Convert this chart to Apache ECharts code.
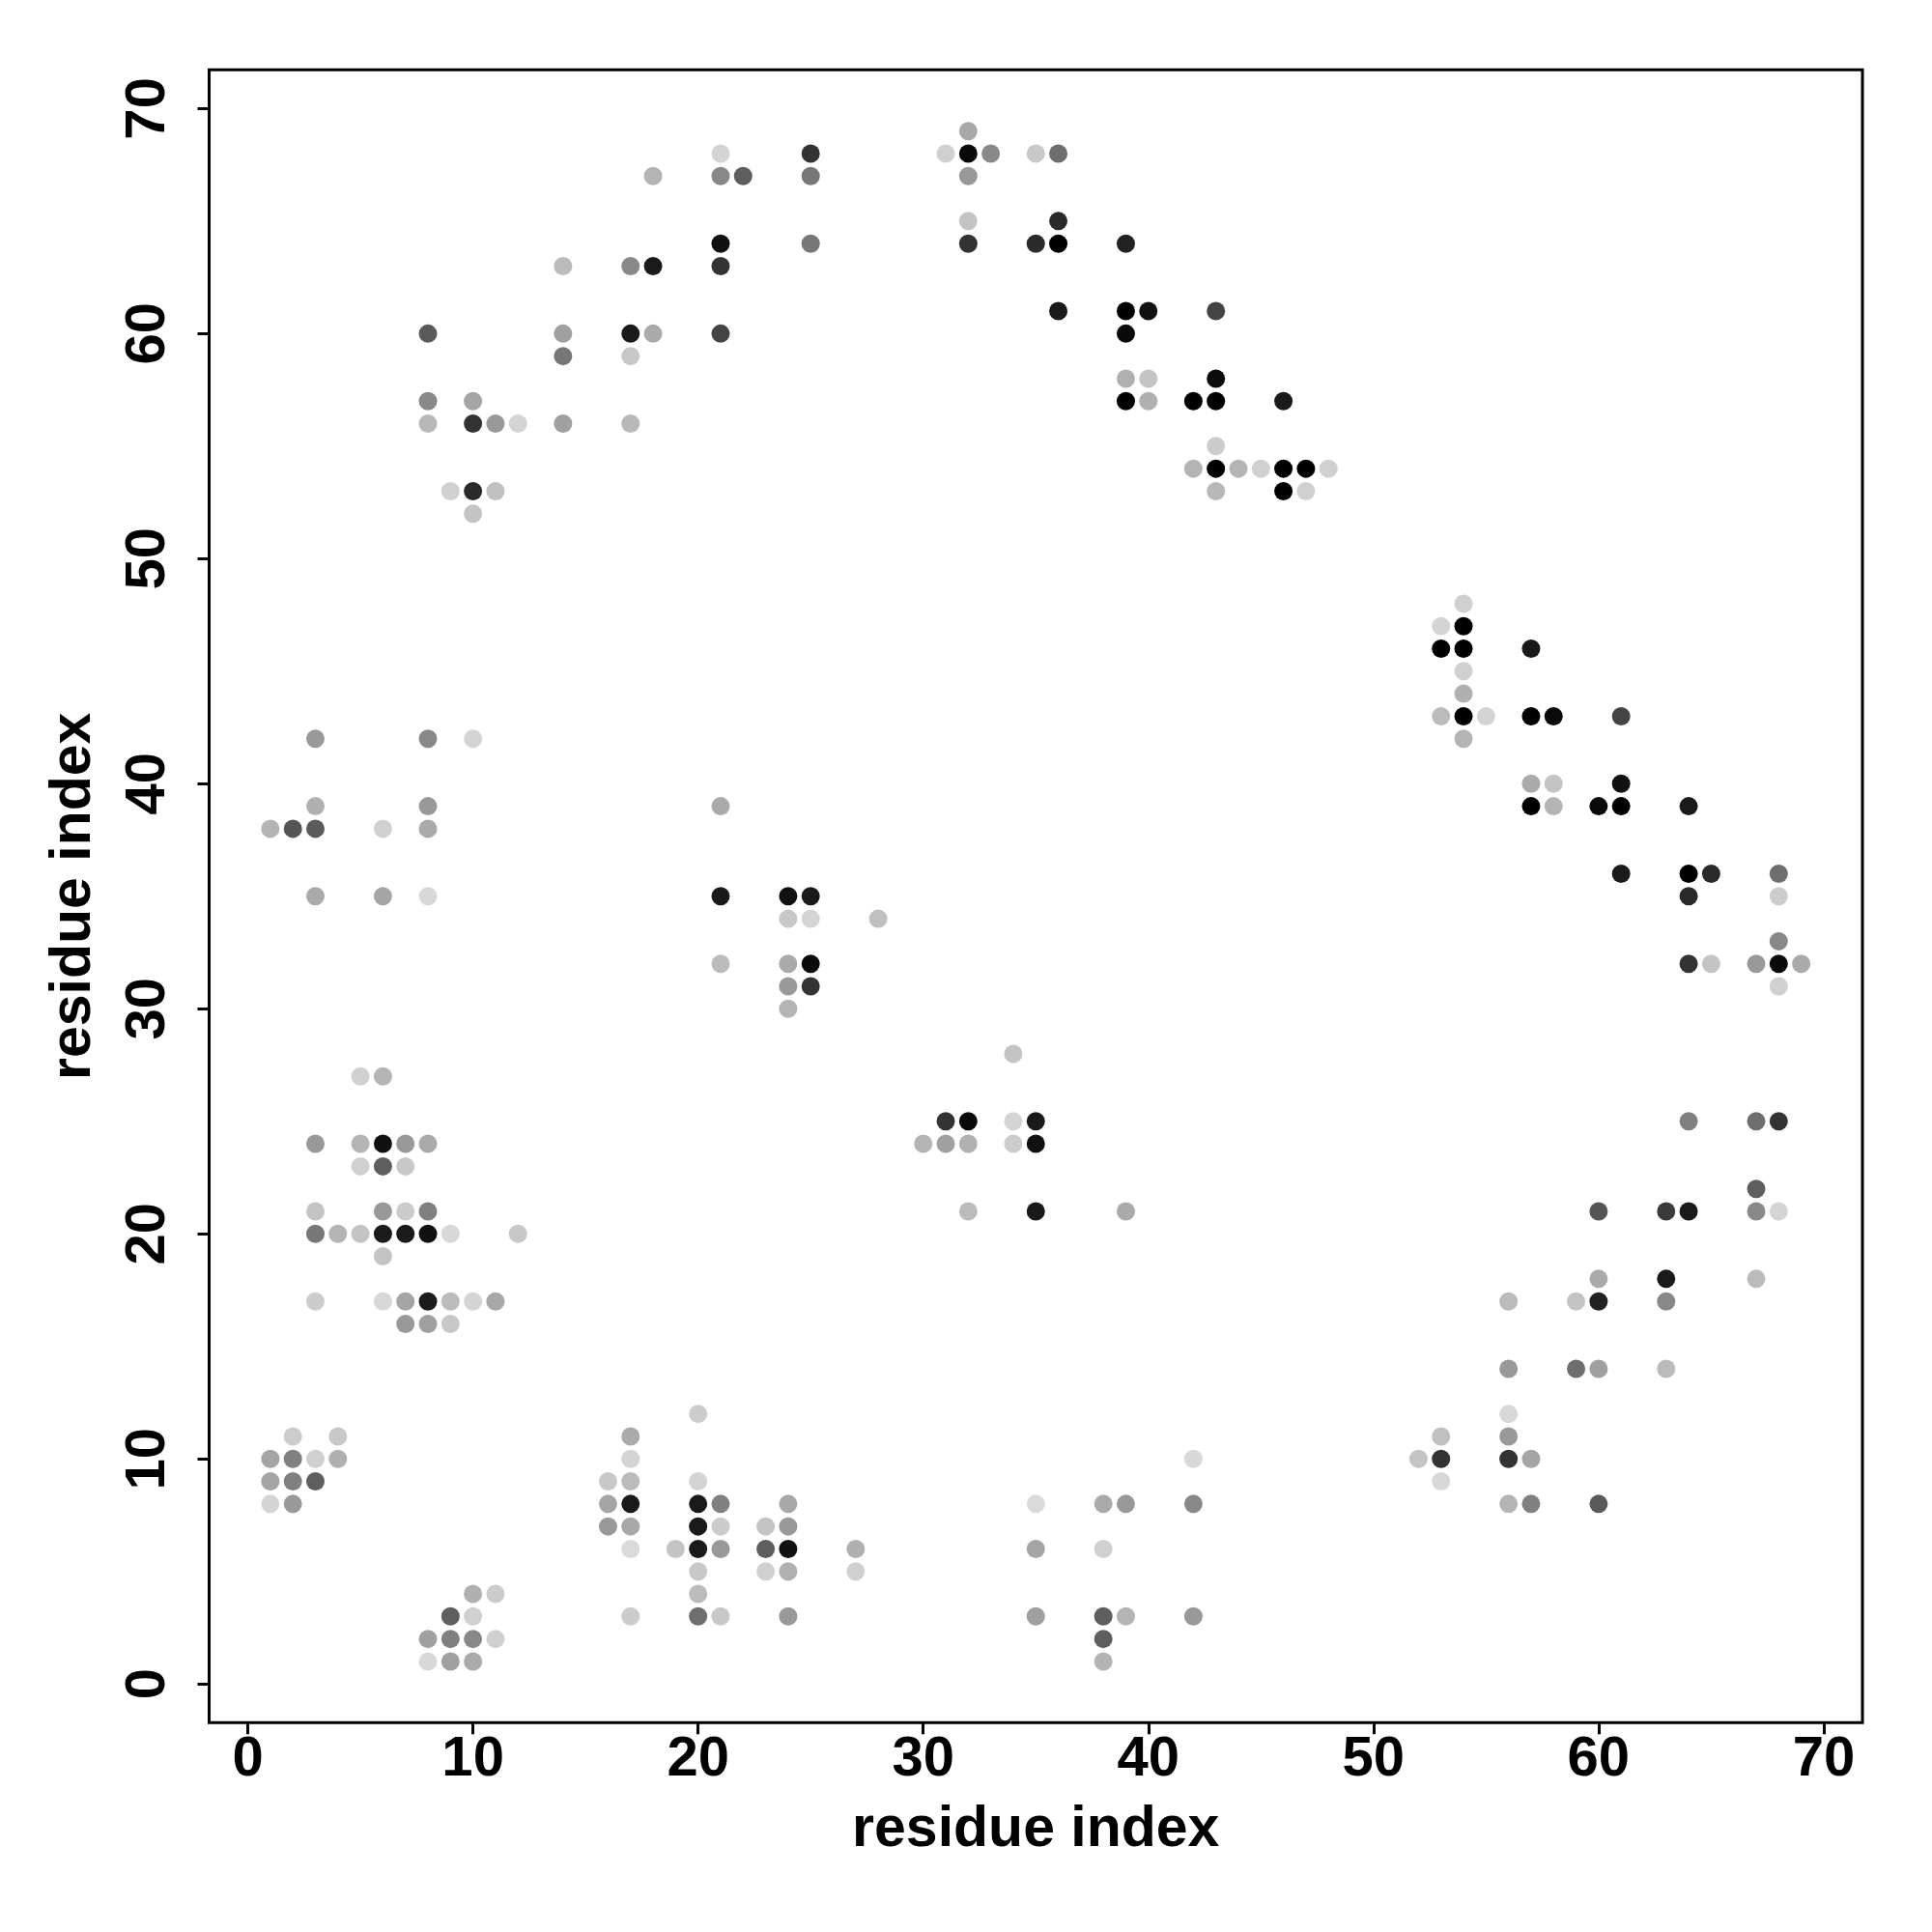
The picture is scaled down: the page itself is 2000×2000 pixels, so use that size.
<!DOCTYPE html>
<html>
<head>
<meta charset="utf-8">
<script src="https://cdn.jsdelivr.net/npm/echarts@6/dist/echarts.min.js"></script>
<style>
html,body{margin:0;padding:0;background:#fff;}
#chart{width:2000px;height:2000px;}
</style>
</head>
<body>
<div id="chart"></div>
<script>
// residue i (x), residue j (y), grey shade level of the dot (0 = black, 255 = white)
var residueX = [
21,18,21,22,21,14,17,18,21,8,14,17,18,21,14,17,8,10,8,10,11,12,14,17,9,10,11,10,
3,8,10,3,8,21,1,2,3,6,8,3,6,8,21,
21,5,6,3,5,6,7,8,5,6,7,3,6,7,8,3,4,5,6,7,8,9,12,6,3,6,7,8,9,10,11,
7,8,9,20,2,4,17,1,2,3,4,17,1,2,3,16,17,20,1,2,16,17,20,21,16,17,20,21,17,19,20,21,20,20,17,20,21,10,11,9,10,8,9,10,11,8,9,10,
24,23,24,23,24,27,23,24,27,24,42,35,38,39,42,35,38,35,38,39,42,38,38,
56,59,60,63,56,53,56,52,53,56,57,53,56,57,60,
64,68,68,64,65,67,68,69,68,64,67,68,67,60,63,64,67,68,60,63,67,56,59,60,63,
24,25,24,25,28,24,25,24,25,24,34,31,32,34,35,30,31,32,34,35,32,35,39,
43,46,47,54,53,54,53,54,57,54,54,53,54,55,57,58,61,54,57,58,61,57,58,60,61,64,61,64,65,68,
32,25,31,32,33,35,36,25,32,32,36,25,32,35,36,39,36,39,40,43,39,39,40,43,39,40,42,43,46,43,42,43,44,45,46,47,48
];
var residueY = [
68,67,67,67,64,63,63,63,63,60,60,60,60,60,59,59,57,57,56,56,56,56,56,56,53,53,53,52,
42,42,42,39,39,39,38,38,38,38,38,35,35,35,35,
32,27,27,24,24,24,24,24,23,23,23,21,21,21,21,20,20,20,20,20,20,20,20,19,17,17,17,17,17,17,17,
16,16,16,12,11,11,11,10,10,10,10,10,9,9,9,9,9,9,8,8,8,8,8,8,7,7,7,7,6,6,6,6,5,4,3,3,3,4,4,3,3,2,2,2,2,1,1,1,
8,7,7,6,6,6,5,5,5,3,10,8,8,8,8,6,6,3,3,3,3,2,1,
14,14,14,14,12,11,11,10,10,10,10,9,8,8,8,
35,35,33,32,32,32,32,32,31,25,25,25,22,21,21,21,21,21,18,18,18,17,17,17,17,
35,35,34,34,34,32,32,31,31,30,28,25,25,25,25,24,24,24,24,24,21,21,21,
53,53,53,48,47,47,46,46,46,45,44,43,43,43,43,43,43,42,40,40,40,39,39,39,39,39,36,36,36,36,
69,68,68,68,68,68,68,67,67,65,65,64,64,64,64,64,61,61,61,61,60,58,58,58,57,57,57,57,57,55,54,54,54,54,54,54,54
];
var residueShade = [
212,180,136,94,17,187,136,26,51,90,160,26,170,68,119,200,136,165,184,51,153,212,160,184,208,42,192,196,
153,136,212,176,153,170,180,85,90,208,170,170,165,216,26,
187,208,180,153,180,17,153,170,208,94,200,196,153,204,128,119,180,196,26,26,17,216,200,196,204,216,165,26,187,212,168,
153,160,200,204,204,200,170,165,128,208,176,212,165,128,94,200,187,212,212,153,165,26,26,128,153,168,26,204,218,196,26,153,200,187,204,110,200,176,204,94,208,160,128,136,208,216,160,170,
168,196,153,94,17,176,208,176,208,153,216,218,170,153,136,165,208,160,94,180,153,94,180,
153,110,160,187,216,192,153,196,51,51,165,216,180,128,90,
42,204,136,51,196,153,10,170,208,128,110,51,94,85,58,26,136,212,170,26,187,187,196,34,136,
17,26,200,212,192,170,10,153,51,180,196,51,10,212,26,180,160,176,204,17,187,26,170,
184,0,208,208,212,0,0,0,26,208,176,187,0,212,0,10,68,180,170,196,17,0,180,10,0,26,26,0,42,110,
168,51,208,10,136,200,110,119,153,196,42,119,51,42,0,34,26,0,17,68,10,176,196,10,0,176,0,0,26,204,180,0,180,208,0,0,208
];
var tickValues = [0, 10, 20, 30, 40, 50, 60, 70];
var axisTitleX = 'residue index';
var axisTitleY = 'residue index';

var points = residueX.map(function (x, k) { return [x, residueY[k], residueShade[k]]; });

var FONT = 'Liberation Sans, Arial, Helvetica, sans-serif';
var chart = echarts.init(document.getElementById('chart'), null, {renderer: 'canvas'});
chart.setOption({
  animation: false,
  backgroundColor: '#ffffff',
  grid: {
    left: 216.5, top: 72.3, width: 1711.5, height: 1711,
    show: true, borderColor: '#000', borderWidth: 3, backgroundColor: 'transparent',
    containLabel: false
  },
  visualMap: {
    show: false, type: 'continuous', dimension: 2, min: 0, max: 255,
    inRange: {color: ['#000000', '#ffffff']}
  },
  xAxis: {
    type: 'value', min: -1.72, max: 71.72,
    splitLine: {show: false},
    axisLine: {show: false, onZero: false},
    axisTick: {show: true, customValues: tickValues, length: 12, inside: false, lineStyle: {color: '#000', width: 3}},
    axisLabel: {show: true, customValues: tickValues, margin: 10, color: '#000', fontSize: 58, fontWeight: 'bold', fontFamily: FONT},
    name: axisTitleX, nameLocation: 'middle', nameGap: 82,
    nameTextStyle: {color: '#000', fontSize: 59, fontWeight: 'bold', fontFamily: FONT}
  },
  yAxis: {
    type: 'value', min: -1.72, max: 71.72,
    splitLine: {show: false},
    axisLine: {show: false, onZero: false},
    axisTick: {show: true, customValues: tickValues, length: 12, inside: false, lineStyle: {color: '#000', width: 3}},
    axisLabel: {show: true, customValues: tickValues, rotate: 90, margin: 34, color: '#000', fontSize: 58, fontWeight: 'bold', fontFamily: FONT},
    name: axisTitleY, nameLocation: 'middle', nameGap: 110, nameRotate: 90,
    nameTextStyle: {color: '#000', fontSize: 59, fontWeight: 'bold', fontFamily: FONT}
  },
  series: [{
    type: 'scatter',
    symbol: 'circle',
    symbolSize: 19,
    data: points,
    itemStyle: {opacity: 1}
  }]
});
</script>
</body>
</html>
